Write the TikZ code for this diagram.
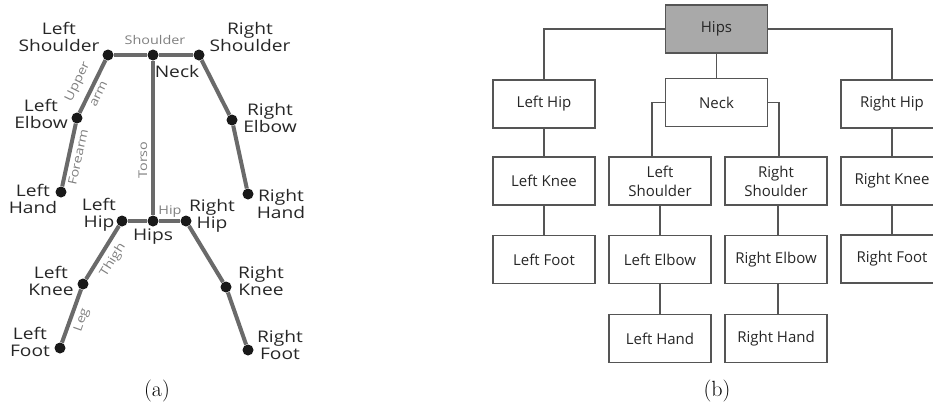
\documentclass[tikz,border=0pt]{standalone}
\usepackage{fontspec}
\newfontfamily\skelfont[FakeStretch=1.2]{Open Sans}
\newfontfamily\treefont{Open Sans}
\definecolor{bonegray}{HTML}{6A6A6A}
\definecolor{boxline}{HTML}{555555}
\definecolor{hipsfill}{HTML}{A9A9A9}
\definecolor{smallgray}{HTML}{808080}
\definecolor{txt}{HTML}{262626}
\tikzset{
  joint/.style={circle, fill=black!90, inner sep=0pt, minimum size=11pt},
  bone/.style={line width=4pt, draw=bonegray},
  lab/.style={font=\skelfont\fontsize{16}{17}\selectfont, align=center, inner sep=0pt, text=txt},
  tiny/.style={font=\skelfont\fontsize{12}{13}\selectfont, align=center, inner sep=0pt, text=smallgray},
  tbox/.style={draw=boxline, line width=1.2pt, minimum width=102pt, minimum height=48pt, inner sep=0pt, align=center, font=\treefont\fontsize{15}{19}\selectfont, text=txt},
  link/.style={draw=boxline, line width=1.2pt},
  captxt/.style={font=\fontsize{22}{22}\selectfont, inner sep=0pt}
}
\begin{document}
\begin{tikzpicture}[x=1pt,y=-1pt]
\useasboundingbox (0,0) rectangle (933,405);
\clip (0,0) rectangle (933,405);
% ---------- (a) skeleton ----------
\node[joint] (ls) at (108,55) {};
\node[joint] (nk) at (153,55) {};
\node[joint] (rs) at (199,55) {};
\node[joint] (le) at (77,118) {};
\node[joint] (re) at (232,120) {};
\node[joint] (lh) at (61,192) {};
\node[joint] (rh) at (248,194) {};
\node[joint] (hp) at (153,221) {};
\node[joint] (lhp) at (122,221) {};
\node[joint] (rhp) at (186,221) {};
\node[joint] (lk) at (83,284) {};
\node[joint] (rk) at (226,287) {};
\node[joint] (lf) at (60,348) {};
\node[joint] (rf) at (248,350) {};
\draw[bone] (ls) -- (nk);
\draw[bone] (nk) -- (rs);
\draw[bone] (ls) -- (le);
\draw[bone] (le) -- (lh);
\draw[bone] (rs) -- (re);
\draw[bone] (re) -- (rh);
\draw[bone] (nk) -- (hp);
\draw[bone] (lhp) -- (hp);
\draw[bone] (hp) -- (rhp);
\draw[bone] (lhp) -- (lk);
\draw[bone] (lk) -- (lf);
\draw[bone] (rhp) -- (rk);
\draw[bone] (rk) -- (rf);
% joint labels
\node[lab] (tls) at (59,37) {Left\\Shoulder};
\node[lab] (trs) at (250,37) {Right\\Shoulder};
\node[lab] (tnk) at (177,71) {Neck};
\node[lab] (tle) at (41,114) {Left\\Elbow};
\node[lab] (tre) at (270,118) {Right\\Elbow};
\node[lab] (tlh) at (33,199) {Left\\Hand};
\node[lab] (trh) at (281,204) {Right\\Hand};
\node[lab] (tlhp) at (99,215) {Left\\Hip};
\node[lab] (trhp) at (212,216) {Right\\Hip};
\node[lab] (thp) at (153,237) {Hips};
\node[lab] (tlk) at (51,281) {Left\\Knee};
\node[lab] (trk) at (261,281) {Right\\Knee};
\node[lab] (tlf) at (30,342) {Left\\Foot};
\node[lab] (trf) at (280,345) {Right\\Foot};
% bone labels
\node[tiny] (bsh) at (155,40) {Shoulder};
\node[tiny, rotate=64] (bup) at (78,82) {Upper};
\node[tiny, rotate=64] (bar) at (99,94) {arm};
\node[tiny, rotate=78] (bfa) at (78,157) {Forearm};
\node[tiny, rotate=90] (bto) at (143,160) {Torso};
\node[tiny] (bhip) at (170,212) {Hip};
\node[tiny, rotate=58] (bth) at (113,260) {Thigh};
\node[tiny, rotate=70.5] (blg) at (82,320) {Leg};
\node[captxt] (capa) at (157,391) {(a)};
% ---------- (b) hierarchy ----------
\node[tbox, fill=hipsfill] (hips) at (716.5,29) {Hips};
\node[tbox] (lhip) at (544,104) {Left Hip};
\node[tbox] (neck) at (716.5,102.5) {Neck};
\node[tbox] (rhip) at (892,104) {Right Hip};
\node[tbox] (lknee) at (544,181) {Left Knee};
\node[tbox] (lsh) at (660,181) {Left\\Shoulder};
\node[tbox] (rsh) at (776,181) {Right\\Shoulder};
\node[tbox] (rknee) at (892,181) {Right Knee};
\node[tbox] (lfoot) at (544,259.5) {Left Foot};
\node[tbox] (lelb) at (660,259.5) {Left Elbow};
\node[tbox] (relb) at (776,259.5) {Right Elbow};
\node[tbox] (rfoot) at (892,259) {Right Foot};
\node[tbox] (lhand) at (660,338.5) {Left Hand};
\node[tbox] (rhand) at (776,338.5) {Right Hand};
\draw[link] (hips.west) -| (lhip.north);
\draw[link] (hips.east) -| (rhip.north);
\draw[link] (hips.south) -- (neck.north);
\draw[link] (neck.west) -| ([xshift=-8pt]lsh.north);
\draw[link] (neck.east) -| ([xshift=3pt]rsh.north);
\draw[link] (lhip.south) -- (lknee.north);
\draw[link] (lknee.south) -- (lfoot.north);
\draw[link] (rhip.south) -- (rknee.north);
\draw[link] (rknee.south) -- (rfoot.north);
\draw[link] (lsh.south) -- (lelb.north);
\draw[link] (lelb.south) -- (lhand.north);
\draw[link] ([xshift=2pt]rsh.south) -- ([xshift=2pt]relb.north);
\draw[link] ([xshift=2pt]relb.south) -- ([xshift=2pt]rhand.north);
\node[captxt] (capb) at (717,391) {(b)};
\end{tikzpicture}
\end{document}
